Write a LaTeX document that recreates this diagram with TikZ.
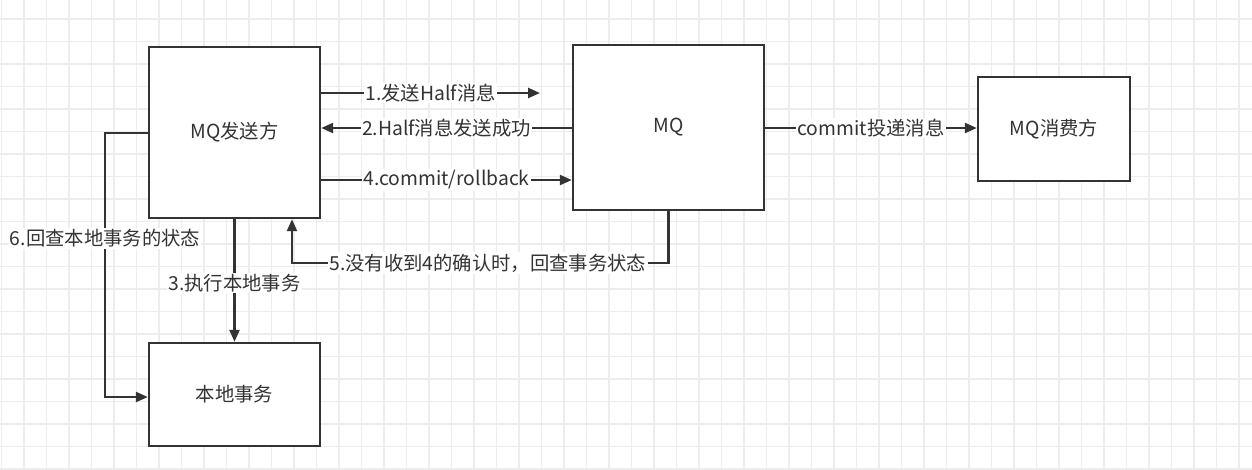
\documentclass[tikz,border=0pt]{standalone}
\usepackage{fontspec}
\setmainfont{Noto Sans CJK SC}
\usetikzlibrary{arrows.meta,calc}
\definecolor{ink}{HTML}{333333}
\definecolor{gridc}{HTML}{EDEDED}
\tikzset{
  box/.style={draw=ink, line width=1.8pt, fill=white, rectangle, font=\fontsize{14.5pt}{16pt}\selectfont, text=ink, inner sep=0pt},
  arr/.style={draw=ink, line width=1.8pt, -{Triangle[length=9pt,width=7.5pt]}},
  lbl/.style={fill=white, text=ink, font=\fontsize{14.5pt}{16pt}\selectfont, inner sep=1pt},
  gridline/.style={draw=gridc, line width=0.9pt}
}
\begin{document}
\begin{tikzpicture}[x=0.75pt,y=-0.75pt]
\useasboundingbox (0,0) rectangle (1252,469);
\fill[white] (0,0) rectangle (1252,469);
\foreach \i in {0,...,55} \draw[gridline] ({1.5+22.5*\i},0) -- ({1.5+22.5*\i},469);
\foreach \j in {0,...,21} \draw[gridline] (0,{-3.5+22.5*\j}) -- (1252,{-3.5+22.5*\j});

\node[box, minimum width=128.25pt, minimum height=128.25pt] (send) at (234.5,132.5) {MQ发送方};
\node[box, minimum width=143.25pt, minimum height=123.75pt] (mq) at (668.5,127.5) {MQ};
\node[box, minimum width=114pt, minimum height=78pt] (cons) at (1054,129) {MQ消费方};
\node[box, minimum width=128.25pt, minimum height=77.25pt] (local) at (234.5,394.5) {本地事务};

\coordinate (e1) at (540,93);
\coordinate (y2) at (0,128);
\coordinate (y4) at (0,180);
\coordinate (x5) at (292,263);
\coordinate (c6a) at (105,133);
\coordinate (c6b) at (105,397);

\draw[arr] (send.east |- e1) -- node[lbl] {1.发送Half消息} (e1);
\draw[arr] (mq.west |- y2) -- node[lbl] {2.Half消息发送成功} (send.east |- y2);
\draw[arr] (send.east |- y4) -- node[lbl] {4.commit/rollback} (mq.west |- y4);
\draw[arr] (mq.east |- y2) -- node[lbl] {commit投递消息} (cons.west |- y2);
\draw[arr] (send.south) -- node[lbl, pos=0.52] {3.执行本地事务} (local.north);
\draw[arr] (mq.south) |- node[lbl, pos=0.74] {5.没有收到4的确认时，回查事务状态} (x5) -- (send.south -| x5);
\draw[arr] (send.west |- c6a) -- (c6a) -- node[lbl, pos=0.4] {6.回查本地事务的状态} (c6b) -- (local.west |- c6b);
\end{tikzpicture}
\end{document}
